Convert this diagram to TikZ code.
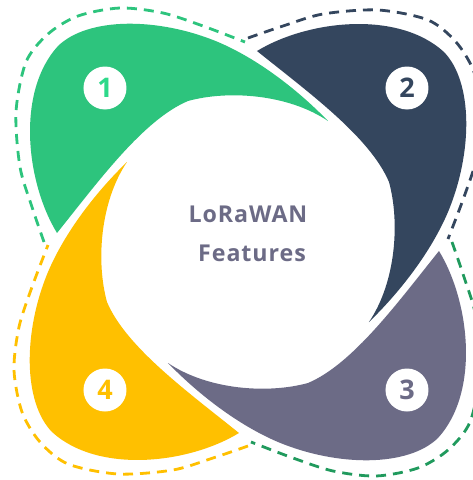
\documentclass[tikz,border=0pt]{standalone}
\usepackage{fontspec}
\setmainfont{Open Sans}
\definecolor{cgreen}{HTML}{2DC47D}
\definecolor{cgreenlt}{HTML}{2ED98A}
\definecolor{cgreendk}{HTML}{209A5D}
\definecolor{cnavy}{HTML}{34465E}
\definecolor{cgrey}{HTML}{6C6B86}
\definecolor{cyellow}{HTML}{FFC000}
\tikzset{
  dashline/.style={draw=#1, line width=2.8pt, dash pattern=on 10pt off 7pt},
  badge/.style={circle, fill=white, minimum size=43pt, inner sep=0pt, text=#1,
    font=\fontsize{27}{27}\selectfont\bfseries},
  title/.style={text=cgrey, anchor=base, inner sep=0pt,
    font=\fontsize{23.2}{26}\selectfont\bfseries\addfontfeature{LetterSpace=4}},
}
\newcommand\petalshape{(-191,9) .. controls (-222,60) and (-232,150) .. (-190,196)
  .. controls (-160,225) and (-90,225) .. (-30,200)
  .. controls (10,183) and (50,152) .. (80,121)
  .. controls (40,148) and (-20,152) .. (-60,141)
  .. controls (-105,122) and (-150,60) .. (-191,9) -- cycle}
\newcommand\dashshape{plot[smooth] coordinates {(-204,0) (-216,35) (-228,75) (-232,130) (-222,180) (-200,208) (-170,226) (-128,234) (-85,229) (-45,216) (-3,200)}}
\begin{document}
\begin{tikzpicture}[x=1pt,y=1pt]
\useasboundingbox (-248,-238) rectangle (225,242);
\clip (-248,-238) rectangle (225,242);
\fill[white] (-248,-238) rectangle (225,242);
% petals
\fill[cgreen] \petalshape;
\begin{scope}[rotate=-90]\fill[cnavy] \petalshape;\end{scope}
\begin{scope}[rotate=-180]\fill[cgrey] \petalshape;\end{scope}
\begin{scope}[rotate=90]\fill[cyellow] \petalshape;\end{scope}
% dashed outlines
\draw[dashline=cgreen] \dashshape;
\begin{scope}[rotate=-90]\draw[dashline=cnavy] \dashshape;\end{scope}
\begin{scope}[rotate=-180]\draw[dashline=cgreendk] \dashshape;\end{scope}
\begin{scope}[rotate=90]\draw[dashline=cyellow] \dashshape;\end{scope}
% badges
\node[badge=cgreenlt] (b1) at (-143,154) {1};
\node[badge=cnavy] (b2) at (159,154) {2};
\node[badge=cgrey] (b3) at (159,-148) {3};
\node[badge=cyellow] (b4) at (-143,-148) {4};
% title
\node[title] (t1) at (0,19.3) {LoRaWAN};
\node[title] (t2) at (4,-19.7) {Features};
\end{tikzpicture}
\end{document}
